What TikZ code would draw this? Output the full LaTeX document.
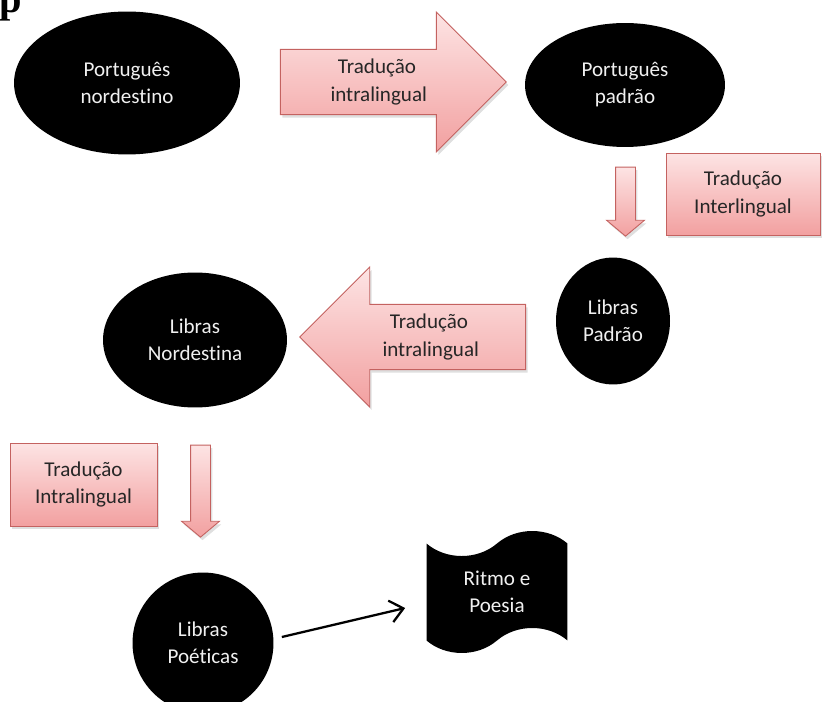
\documentclass[tikz,border=0pt]{standalone}
\usepackage{fontspec}
\setmainfont{Carlito}[Ligatures=NoCommon]
\newfontfamily\pageserif{Liberation Serif}
\usetikzlibrary{arrows.meta,positioning,shapes.geometric,shapes.arrows,shapes.symbols,shadows}
\definecolor{pinktop}{RGB}{253,228,228}
\definecolor{pinkbot}{RGB}{242,160,160}
\definecolor{pinkline}{RGB}{196,98,96}
\definecolor{lighttext}{RGB}{240,240,240}
\begin{document}
\begin{tikzpicture}[x=0.02cm, y=-0.02cm, every node/.style={font=\fontsize{12}{15.4}\selectfont, align=center},
  blob/.style={ellipse, fill=black, text=lighttext, inner sep=0pt},
  pinkfill/.style={draw=pinkline, line width=0.5pt, top color=pinktop, bottom color=pinkbot, drop shadow={shadow xshift=0.4mm, shadow yshift=-0.6mm, opacity=0.25}},
  bigarr/.style={pinkfill, single arrow, single arrow head extend=7mm, single arrow tip angle=90, minimum width=28mm, minimum height=45.2mm, text width=18.6mm, inner xsep=3mm, inner ysep=1.5mm},
  smallarr/.style={pinkfill, single arrow, shape border rotate=270, single arrow head extend=1.8mm, single arrow tip angle=100, minimum width=7.4mm, inner sep=1.9mm},
  tbox/.style={pinkfill, rectangle, text=black!85, minimum height=16.4mm},
  conn/.style={line width=1.3pt, -{Straight Barb[length=2.6mm,width=4.4mm]}}]
\useasboundingbox (0,0) rectangle (824,702);
\clip (0,0) rectangle (824,702);
\node[font=\pageserif\bfseries\fontsize{23}{23}\selectfont, anchor=base west, inner sep=0pt] (pg) at (-1,13) {p};
\node[blob, minimum width=45.2mm, minimum height=28.6mm] (ptne) at (127,83) {Português\\nordestino};
\node[bigarr, text=black!85] (tr1) at (377,82) {Tradução\\intralingual};
\node[blob, minimum width=40mm, minimum height=24.8mm] (ptpd) at (625,85) {Português\\padrão};
\node[smallarr, minimum height=13.8mm] (dn1) at (625.5,197.5) {};
\node[tbox, minimum width=30.8mm] (tr2) at (743,194) {Tradução\\Interlingual};
\node[blob, minimum width=22.8mm, minimum height=25.4mm] (lbpd) at (613,321) {Libras\\Padrão};
\node[bigarr, shape border rotate=180, text=black!85] (tr3) at (429,337) {Tradução\\intralingual};
\node[blob, minimum width=36.8mm, minimum height=27mm] (lbne) at (195,340) {Libras\\Nordestina};
\node[tbox, minimum width=29.4mm, minimum height=16.6mm] (tr4) at (83.5,484.5) {Tradução\\Intralingual};
\node[smallarr, minimum height=18.4mm] (dn2) at (200.5,487) {};
\node[circle, fill=black, text=lighttext, inner sep=0pt, minimum size=28.2mm] (lbpo) at (203,643) {Libras\\Poéticas};
\node[tape, fill=black, text=lighttext, minimum width=28.2mm, minimum height=24.4mm, tape bend height=5mm] (ritmo) at (497,592) {Ritmo e\\Poesia};
\draw[conn] ([shift={(8,-6)}]lbpo.east) -- ([shift={(-21,16)}]ritmo.west);
\end{tikzpicture}
\end{document}
